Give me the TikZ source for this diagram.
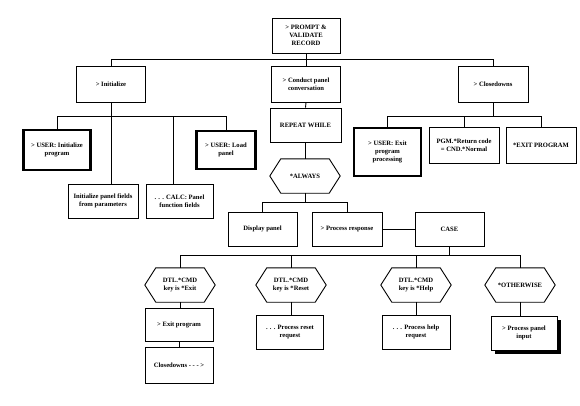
\documentclass[tikz,border=0pt]{standalone}
\usepackage{fontspec}
\setmainfont{Liberation Serif}
\usetikzlibrary{shadows}
\begin{document}
\begin{tikzpicture}[x=1pt,y=-1pt,
  every node/.style={font=\fontsize{6.6}{7.8}\selectfont\bfseries, align=center, inner sep=1pt},
  box/.style={draw, line width=0.9pt, minimum width=#1},
  box/.default=69,
  heavy/.style={draw, line width=2.8pt},
  hexo/.style={minimum width=70, minimum height=34},
  shadowed/.style={drop shadow={shadow xshift=4pt, shadow yshift=-4pt, fill=black, opacity=1}},
  conn/.style={line width=0.9pt}]
\useasboundingbox (0,0) rectangle (580,405);
\fill[white] (0,0) rectangle (580,405);
% bus levels
\coordinate (bus1) at (0,59);
\coordinate (bus2) at (0,116);
\coordinate (bus3) at (0,202);
\coordinate (bus4) at (0,255);
% nodes
\node[box=68, minimum height=35] (top) at (306,35.5) {> PROMPT \&\\VALIDATE\\RECORD};
\node[box=69, minimum height=36] (init) at (111,84) {> Initialize};
\node[box=69, minimum height=36] (conduct) at (306,84) {> Conduct panel\\conversation};
\node[box=70, minimum height=36] (close) at (493,84) {> Closedowns};
\node[heavy, minimum width=67, minimum height=40] (userinit) at (57,150) {> USER: Initialize\\program};
\node[heavy, minimum width=59, minimum height=38] (userload) at (226,150) {> USER: Load\\panel};
\node[box=70, minimum height=34] (initpf) at (103,201) {Initialize panel fields\\from parameters};
\node[box=67, minimum height=34] (calc) at (179.5,201) {. . . CALC: Panel\\function fields};
\node[box=71, minimum height=34] (repeat) at (305.5,125) {REPEAT WHILE};
\node[hexo] (always) at (305,176) {*ALWAYS};
\node[box=69, minimum height=34] (display) at (262.5,229) {Display panel};
\node[box=70, minimum height=34] (procresp) at (347,229) {> Process response};
\node[box=69, minimum height=34] (case) at (449.5,229) {CASE};
\node[heavy, minimum width=67, minimum height=48] (userexit) at (387.5,152) {> USER: Exit\\program\\processing};
\node[box=70, minimum height=36] (pgm) at (464,145) {PGM.*Return code\\= CND.*Normal};
\node[box=70, minimum height=36] (exitprog) at (541,145) {*EXIT PROGRAM};
\node[hexo] (hexexit) at (180,285) {DTL.*CMD\\key is *Exit};
\node[hexo] (hexreset) at (291,285) {DTL.*CMD\\key is *Reset};
\node[hexo] (hexhelp) at (416,285) {DTL.*CMD\\key is *Help};
\node[hexo] (hexother) at (520,285) {*OTHERWISE};
\node[box=68, minimum height=33] (exitp) at (179,325) {> Exit program};
\node[box=68, minimum height=36] (closed2) at (179,365) {Closedowns - - - >};
\node[box=67, minimum height=34] (resetreq) at (290,332) {. . . Process reset\\request};
\node[box=68, minimum height=34] (helpreq) at (416,332) {. . . Process help\\request};
\node[box=66, minimum height=34, fill=white, shadowed] (panelin) at (524,333) {> Process panel\\input};
% hexagon outlines
\foreach \n in {always,hexexit,hexreset,hexhelp,hexother}
  \draw[conn] (\n.west) -- ([xshift=11pt]\n.north west) -- ([xshift=-11pt]\n.north east)
    -- (\n.east) -- ([xshift=-11pt]\n.south east) -- ([xshift=11pt]\n.south west) -- cycle;
% connectors
\draw[conn] (top.south) -- (top.south |- bus1);
\draw[conn] (init.north) -- (init.north |- bus1) -- (close.north |- bus1) -- (close.north);
\draw[conn] (conduct.north) -- (conduct.north |- bus1);
\draw[conn] (init.south) -- (init.south |- initpf.north);
\draw[conn] (userinit.north) -- (userinit.north |- bus2) -- (userload.north |- bus2) -- (userload.north);
\draw[conn] ([xshift=-6.5pt]calc.north) -- ([xshift=-6.5pt]calc.north |- bus2);
\draw[conn] (conduct.south) -- (repeat.north);
\draw[conn] (repeat.south) -- (repeat.south -| always.north) -- (always.north);
\draw[conn] (always.south) -- (always.south |- bus3);
\draw[conn] (display.north) -- (display.north |- bus3) -- (procresp.north |- bus3) -- (procresp.north);
\draw[conn] (procresp.east) -- (case.west);
\draw[conn] (case.south) -- (case.south |- bus4);
\draw[conn] (hexexit.north) -- (hexexit.north |- bus4) -- (hexother.north |- bus4) -- (hexother.north);
\draw[conn] (hexreset.north) -- (hexreset.north |- bus4);
\draw[conn] (hexhelp.north) -- (hexhelp.north |- bus4);
\draw[conn] (hexexit.south) -- (exitp.north -| hexexit.south);
\draw[conn] (exitp.south) -- (closed2.north);
\draw[conn] (hexreset.south) -- (resetreq.north -| hexreset.south);
\draw[conn] (hexhelp.south) -- (helpreq.north -| hexhelp.south);
\draw[conn] (hexother.south) -- (panelin.north -| hexother.south);
\draw[conn] (close.south) -- (close.south |- bus2);
\draw[conn] (userexit.north) -- (userexit.north |- bus2) -- (exitprog.north |- bus2) -- (exitprog.north);
\draw[conn] (pgm.north) -- (pgm.north |- bus2);
\end{tikzpicture}
\end{document}
